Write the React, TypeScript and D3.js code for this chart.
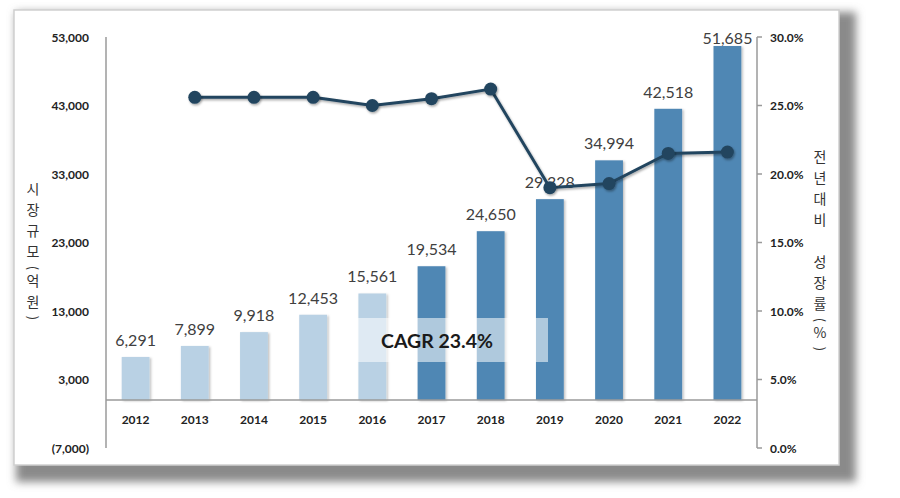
import React from "react";
import * as d3 from "d3";

const years = ["2012","2013","2014","2015","2016","2017","2018","2019","2020","2021","2022"];
const marketSize = [6291, 7899, 9918, 12453, 15561, 19534, 24650, 29328, 34994, 42518, 51685];
const growthYears = ["2013","2014","2015","2016","2017","2018","2019","2020","2021","2022"];
const growthRates = [25.6, 25.6, 25.6, 25.0, 25.5, 26.2, 19.0, 19.3, 21.5, 21.6];
const leftTicks = [-7000, 3000, 13000, 23000, 33000, 43000, 53000];
const rightTicks = [0, 5, 10, 15, 20, 25, 30];
const projectedFrom = "2017";
const cagrLabel = "CAGR 23.4%";
const leftTitle = ["시", "장", "규", "모", "(", "억", "원", ")"];
const rightTitle = ["전", "년", "대", "비", " ", "성", "장", "률", "(", "%", ")"];

const W = 900, H = 498;
const plot = { left: 106, right: 757, top: 37, bottom: 448 };

export default function App() {
  const x = d3.scaleBand<string>().domain(years).range([plot.left, plot.right]).paddingInner(0.53).paddingOuter(0.265);
  const yL = d3.scaleLinear().domain([-7000, 53000]).range([plot.bottom, plot.top]);
  const yR = d3.scaleLinear().domain([0, 30]).range([plot.bottom, plot.top]);
  const cx = (yr: string) => (x(yr) as number) + x.bandwidth() / 2;
  const fmt = d3.format(",");
  const fmtL = (v: number) => (v < 0 ? `(${fmt(-v)})` : fmt(v));
  const fmtR = (v: number) => d3.format(".1f")(v) + "%";
  const line = d3.line<number>().x((_, i) => cx(growthYears[i])).y((d) => yR(d));
  const projIdx = years.indexOf(projectedFrom);
  const font = "Lato, 'Noto Sans', sans-serif";
  const kfont = "'Noto Sans CJK KR', 'Noto Sans', sans-serif";

  const titleChar = (ch: string, i: number, xx: number, yy: number) => {
    const isParen = ch === "(" || ch === ")";
    if (ch === " ") return null;
    if (isParen) {
      return (
        <text key={i} x={xx} y={yy} transform={`rotate(90 ${xx} ${yy})`} fontSize={13} fill="#333" fontFamily={kfont} textAnchor="middle" dominantBaseline="central">{ch}</text>
      );
    }
    return (
      <text key={i} x={xx} y={yy} fontSize={14} fill="#333" fontFamily={kfont} textAnchor="middle" dominantBaseline="central">{ch}</text>
    );
  };

  const layoutTitle = (chars: string[], xx: number, y0: number) => {
    let y = y0;
    const out: any[] = [];
    chars.forEach((ch, i) => {
      const isParen = ch === "(" || ch === ")";
      const step = ch === " " ? 21 : isParen ? 12 : 21;
      if (isParen) y -= 4;
      out.push(titleChar(ch, i, xx, y));
      y += step;
    });
    return out;
  };

  return (
    <svg width={W} height={H} style={{ position: "absolute", left: 0, top: 0, background: "#fff" }}>
      <defs>
        <filter id="shadow" x="-5%" y="-5%" width="115%" height="115%">
          <feGaussianBlur stdDeviation="4" />
        </filter>
        <filter id="barsh" x="-20%" y="-5%" width="150%" height="115%">
          <feDropShadow dx="1.5" dy="1" stdDeviation="1.2" floodColor="#000" floodOpacity="0.25" />
        </filter>
        <filter id="dotsh" x="-50%" y="-50%" width="200%" height="200%">
          <feDropShadow dx="1" dy="1.5" stdDeviation="1.2" floodColor="#000" floodOpacity="0.35" />
        </filter>
      </defs>
      {/* frame shadow */}
      <rect x={16} y={12} width={840} height={470} fill="#8a8a8a" filter="url(#shadow)" />
      <rect x={14} y={10} width={825} height={455} fill="#fff" stroke="#cfcfcf" strokeWidth={1.5} />

      {/* bars */}
      {years.map((yr, i) => (
        <rect key={yr} x={x(yr)} y={yL(marketSize[i])} width={x.bandwidth()} height={yL(0) - yL(marketSize[i])}
          fill={i >= projIdx ? "#4f87b4" : "#b9d1e4"} filter="url(#barsh)" />
      ))}

      {/* axes */}
      <line x1={plot.left} x2={plot.left} y1={plot.top} y2={plot.bottom} stroke="#9a9a9a" strokeWidth={1.5} />
      <line x1={plot.right} x2={plot.right} y1={plot.top} y2={plot.bottom} stroke="#9a9a9a" strokeWidth={1.5} />
      <line x1={plot.left} x2={plot.right} y1={yL(0)} y2={yL(0)} stroke="#9a9a9a" strokeWidth={1.5} />
      {leftTicks.map((t) => (
        <text key={t} x={89} y={yL(t)} textAnchor="end" dominantBaseline="central" fontSize={12} fontWeight="bold" fill="#222" fontFamily={font}>{fmtL(t)}</text>
      ))}
      {rightTicks.map((t) => (
        <g key={t}>
          <line x1={plot.right} x2={plot.right + 5} y1={yR(t)} y2={yR(t)} stroke="#9a9a9a" strokeWidth={1.5} />
          <text x={770} y={yR(t)} dominantBaseline="central" fontSize={12} fontWeight="bold" fill="#222" fontFamily={font}>{fmtR(t)}</text>
        </g>
      ))}
      {years.map((yr) => (
        <text key={yr} x={cx(yr)} y={419} textAnchor="middle" dominantBaseline="central" fontSize={12} fontWeight="bold" fill="#222" fontFamily={font}>{yr}</text>
      ))}

      {/* value labels */}
      {years.map((yr, i) => (
        <text key={yr} x={cx(yr)} y={Math.max(yL(marketSize[i]) - 11, 44)} textAnchor="middle" fontSize={16} fill="#404040" fontFamily={font}>{fmt(marketSize[i])}</text>
      ))}

      {/* CAGR box */}
      <rect x={357} y={318} width={191} height={44} fill="#fff" fillOpacity={0.55} />
      <text x={437} y={340} textAnchor="middle" dominantBaseline="central" fontSize={19.5} fontWeight="bold" fill="#1a1a1a" fontFamily={font}>{cagrLabel}</text>

      {/* growth line */}
      <path d={line(growthRates) || ""} fill="none" stroke="#22455f" strokeWidth={3} filter="url(#dotsh)" />
      {growthRates.map((g, i) => (
        <circle key={i} cx={cx(growthYears[i])} cy={yR(g)} r={6.5} fill="#22455f" filter="url(#dotsh)" />
      ))}

      {/* axis titles */}
      {layoutTitle(leftTitle, 33, 188)}
      {layoutTitle(rightTitle, 820, 156)}
    </svg>
  );
}
